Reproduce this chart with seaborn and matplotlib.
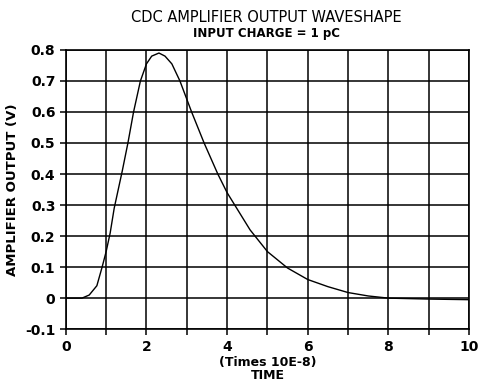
import matplotlib
matplotlib.use('Agg')
import matplotlib.pyplot as plt
import seaborn as sns
import numpy as np
import pandas as pd

# values (time in units of 10E-8 s, output in V)
time = [0.0, 0.4, 0.58, 0.77, 0.9, 1.0, 1.1, 1.2, 1.3, 1.4, 1.54, 1.68, 1.85, 2.0,
        2.13, 2.31, 2.46, 2.63, 2.83, 3.12, 3.43, 3.77, 4.0, 4.57, 5.0, 5.5, 6.0,
        6.5, 7.0, 7.5, 8.0, 9.0, 10.0]
output = [0.0, 0.0, 0.01, 0.04, 0.1, 0.15, 0.21, 0.29, 0.35, 0.41, 0.5, 0.6, 0.7, 0.755,
          0.78, 0.79, 0.78, 0.755, 0.7, 0.6, 0.5, 0.4, 0.34, 0.22, 0.15, 0.097, 0.06,
          0.037, 0.018, 0.007, 0.0, -0.003, -0.005]
xticks = [0, 2, 4, 6, 8, 10]
yticks = [-0.1, 0, 0.1, 0.2, 0.3, 0.4, 0.5, 0.6, 0.7, 0.8]
ytick_labels = ['-0.1', '0', '0.1', '0.2', '0.3', '0.4', '0.5', '0.6', '0.7', '0.8']

df = pd.DataFrame({'t': time, 'v': output})

sns.set_style('ticks')
plt.rcParams['font.family'] = ['DejaVu Sans']
plt.rcParams['text.color'] = 'black'
plt.rcParams['axes.labelcolor'] = 'black'

fig = plt.figure(figsize=(4.84, 3.9), dpi=100)
ax = fig.add_axes([0.136, 0.156, 0.833, 0.716])
sns.lineplot(data=df, x='t', y='v', ax=ax, color='black', linewidth=1.0)

ax.set_xlim(0, 10)
ax.set_ylim(-0.1, 0.8)
ax.set_xticks(xticks)
ax.set_xticks(np.arange(0, 11, 1), minor=True)
ax.set_yticks(yticks)
ax.set_yticklabels(ytick_labels)
ax.grid(True, which='both', color='black', linewidth=1.1)
ax.tick_params(axis='both', which='both', direction='out', length=4, width=1.1,
               colors='black', labelsize=10)
for lab in ax.get_xticklabels() + ax.get_yticklabels():
    lab.set_fontweight('bold')
for s in ax.spines.values():
    s.set_linewidth(1.2)
    s.set_color('black')

ax.set_xlabel('(Times 10E-8)\nTIME', fontsize=9, fontweight='bold', linespacing=1.0, labelpad=2)
ax.set_ylabel('AMPLIFIER OUTPUT (V)', fontsize=9.5, fontweight='bold', labelpad=4)
fig.text(0.55, 0.955, 'CDC AMPLIFIER OUTPUT WAVESHAPE', ha='center', va='center', fontsize=10.5)
fig.text(0.55, 0.915, 'INPUT CHARGE = 1 pC', ha='center', va='center', fontsize=8.5, fontweight='bold')

fig.savefig('out.png', dpi=100)
